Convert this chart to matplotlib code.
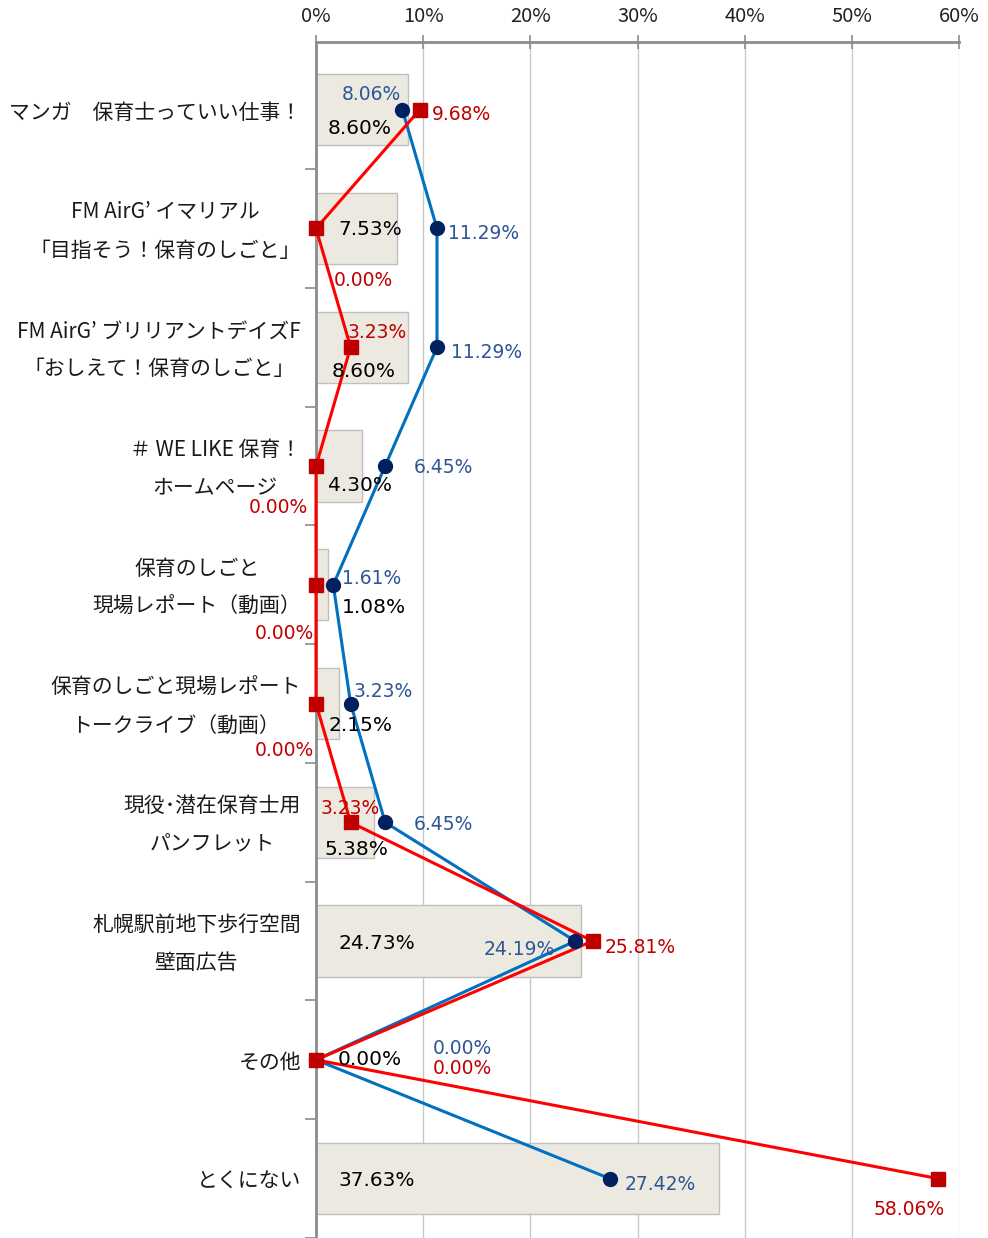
import matplotlib

matplotlib.use("Agg")
import matplotlib.pyplot as plt
import numpy as np

plt.rcParams["font.family"] = ["Noto Sans CJK JP", "DejaVu Sans"]

# --- data ---
categories = [
    "マンガ　保育士っていい仕事！",
    "FM AirG’ イマリアル\n「目指そう！保育のしごと」",
    "FM AirG’ ブリリアントデイズF\n「おしえて！保育のしごと」",
    "＃ WE LIKE 保育！\nホームページ",
    "保育のしごと\n現場レポート（動画）",
    "保育のしごと現場レポート\nトークライブ（動画）",
    "現役･潜在保育士用\nパンフレット",
    "札幌駅前地下歩行空間\n壁面広告",
    "その他",
    "とくにない",
]
bar_vals = [8.60, 7.53, 8.60, 4.30, 1.08, 2.15, 5.38, 24.73, 0.00, 37.63]
blue_vals = [8.06, 11.29, 11.29, 6.45, 1.61, 3.23, 6.45, 24.19, 0.00, 27.42]
red_vals = [9.68, 0.00, 3.23, 0.00, 0.00, 0.00, 3.23, 25.81, 0.00, 58.06]

# label offsets in pixels (dx, dy with y down), hand placed like the source
bar_off = [(44, 19), (54, 1), (48, 24), (44, 19), (58, 23), (44, 22), (40, 27), (61, 2), (54, 0), (61, 2)]
blue_off = [(-31, -15), (47, 5), (50, 5), (58, 1), (38, -6), (33, -12), (58, 2), (-56, 8), (146, -11), (50, 6)]
red_off = [(42, 5), (47, 52), (27, -15), (-38, 41), (-32, 49), (-32, 47), (0, -14), (48, 6), (146, 9), (-29, 31)]

BAR_FACE = "#ECEAE0"
BAR_EDGE = "#BFBFBF"
BLUE_LINE = "#0070C0"
BLUE_MARK = "#002060"
BLUE_TEXT = "#2F5597"
RED_LINE = "#FF0000"
RED_MARK = "#C00000"
RED_TEXT = "#C00000"

fig = plt.figure(figsize=(9.88, 12.38), dpi=100)
ax = fig.add_axes([316 / 988, 0.0, (959 - 316) / 988, 1 - 42 / 1238])

y = np.arange(len(categories))
ax.barh(y, bar_vals, height=0.6, color=BAR_FACE, edgecolor=BAR_EDGE, linewidth=1.0, zorder=2)

ax.plot(blue_vals, y, color=BLUE_LINE, lw=2.2, zorder=3, clip_on=False)
ax.plot(red_vals, y, color=RED_LINE, lw=2.2, zorder=4, clip_on=False)
ax.plot(blue_vals, y, ls="none", marker="o", ms=10, color=BLUE_MARK, zorder=5, clip_on=False)
ax.plot(red_vals, y, ls="none", marker="s", ms=9.5, color=RED_MARK, zorder=6, clip_on=False)

num_font = ["DejaVu Sans"]
for i in range(len(categories)):
    dx, dy = bar_off[i]
    ax.annotate(f"{bar_vals[i]:.2f}%", (0, y[i]), xytext=(dx, -dy), textcoords="offset pixels",
                ha="center", va="center", fontsize=14.5, color="#000000", family=num_font, zorder=7)
    dx, dy = blue_off[i]
    ax.annotate(f"{blue_vals[i]:.2f}%", (blue_vals[i], y[i]), xytext=(dx, -dy), textcoords="offset pixels",
                ha="center", va="center", fontsize=13.5, color=BLUE_TEXT, family=num_font, zorder=7)
    dx, dy = red_off[i]
    ax.annotate(f"{red_vals[i]:.2f}%", (red_vals[i], y[i]), xytext=(dx, -dy), textcoords="offset pixels",
                ha="center", va="center", fontsize=13.5, color=RED_TEXT, family=num_font, zorder=7)

# category labels
for i, lab in enumerate(categories):
    ax.annotate(lab, (0, y[i]), xytext=(-15, -3), textcoords="offset pixels",
                xycoords=("axes fraction", "data"), ha="right", va="center",
                multialignment="center", fontsize=15, linespacing=1.95, color="#1a1a1a")

ax.set_xlim(0, 60)
ax.set_ylim(9.49, -0.57)

ax.xaxis.tick_top()
ax.set_xticks(np.arange(0, 61, 10))
ax.set_xticklabels([f"{v}%" for v in range(0, 61, 10)], fontsize=14.5, color="#222222")
ax.tick_params(axis="x", which="major", direction="inout", length=10, width=1.2, color="#8C8C8C", pad=6)
ax.grid(axis="x", color="#C8C8C8", lw=1.0, zorder=0)

ax.set_yticks([])
ax.set_yticks(np.arange(-0.5, 9.6, 1.0)[1:], minor=True)
ax.tick_params(axis="y", which="minor", direction="out", length=8, width=1.2, color="#8C8C8C")

for s in ("right", "bottom"):
    ax.spines[s].set_visible(False)
ax.spines["top"].set_color("#8C8C8C")
ax.spines["top"].set_linewidth(2.0)
ax.spines["left"].set_color("#8C8C8C")
ax.spines["left"].set_linewidth(2.0)

fig.savefig("out.png", dpi=100)
